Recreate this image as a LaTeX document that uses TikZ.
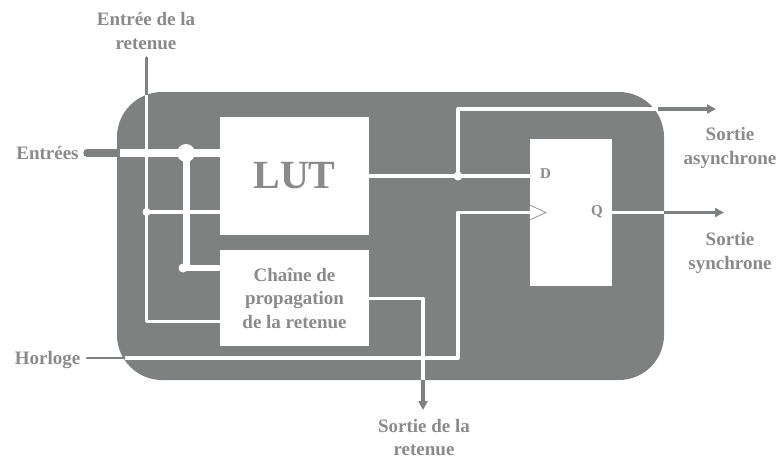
\documentclass[tikz,border=0pt]{standalone}
\usepackage{fontspec}
\setmainfont{Liberation Serif}
\usepackage{tikz}
\usetikzlibrary{arrows.meta,positioning}
\definecolor{blockgray}{HTML}{7F8180}
\definecolor{labelgray}{HTML}{8A8A8A}

\begin{document}
\begin{tikzpicture}[
  x=1pt, y=-1pt,
  node distance=15pt and 15pt,
  blockbox/.style={fill=blockgray, rounded corners=45pt, minimum width=547pt, minimum height=288pt, inner sep=0pt},
  whitebox/.style={fill=white, align=center, inner sep=0pt, text=labelgray},
  lab/.style={text=labelgray, align=center, font=\fontsize{19}{23.5}\selectfont\bfseries, inner sep=0pt},
  pin/.style={text=labelgray, font=\fontsize{15}{15}\selectfont\bfseries, inner sep=0pt},
  wire/.style={draw=white, line width=3.6pt, line join=round},
  stub/.style={draw=blockgray, line width=3.6pt, line cap=round},
  arr/.style={stub, line cap=butt, -{Triangle[length=9pt,width=9pt]}},
  dot/.style={circle, fill=white, inner sep=0pt, minimum size=#1}]
\useasboundingbox (0,0) rectangle (778,460);
\node[blockbox] (fpga) at (390.5,236) {};
\node[whitebox, minimum width=149pt, minimum height=118pt, font=\fontsize{40}{44}\selectfont\bfseries] (lut) at (294.5,176) {LUT};
\node[whitebox, minimum width=149pt, minimum height=96pt, below=15pt of lut, font=\fontsize{19}{23.5}\selectfont\bfseries] (chain) {Chaîne de\\propagation\\de la retenue};
\node[whitebox, minimum width=82pt, minimum height=147pt] (ff) at (571,212.5) {};
\node[pin] (d) at (545.5,174) {D};
\node[pin] (q) at (597,211.5) {Q};
% labels
\node[lab] (cin) at (146,31) {Entrée de la\\retenue};
\node[lab] (ent) at (47.5,152.5) {Entrées};
\node[lab] (clk) at (47.5,359.5) {Horloge};
\node[lab] (sa) at (730,148) {Sortie\\asynchrone};
\node[lab] (ss) at (730,253) {Sortie\\synchrone};
\node[lab] (cout) at (424,437.5) {Sortie de la\\retenue};
% junctions and free ends
\coordinate (cintop) at (146.5,58);
\coordinate (cinedge) at (146.5,95);
\coordinate (cinj) at (146.5,212);
\coordinate (entstart) at (87,153);
\coordinate (entedge) at (120,153);
\coordinate (entj) at (186,153);
\coordinate (entk) at (186,268);
\coordinate (entkdotc) at (183,268);
\coordinate (clkstart) at (87,358);
\coordinate (clkedge) at (125,358);
\coordinate (outj) at (458,176);
\coordinate (asyedge) at (656,109);
\coordinate (asyend) at (716,109);
\coordinate (syncedge) at (664,212.5);
\coordinate (syncend) at (724,212.5);
\coordinate (coutedge) at (423,380);
\coordinate (coutend) at (423,410);
\draw[stub] (cintop) -- (cinedge);
\draw[stub, line width=7.5pt] (entstart) -- (entedge);
\draw[stub, line width=2.7pt] (clkstart) -- (clkedge);
\draw[arr] (asyedge) ++(2,0) -- (asyend);
\draw[arr] (syncedge) -- (syncend);
\draw[arr] (coutedge) -- (coutend);
\draw[wire] (cinedge) |- ([yshift=-23pt]chain.west);
\draw[wire] (cinj) -- (cinj -| lut.west);
\draw[wire, line width=8.5pt] (entedge) -- (entj -| lut.west);
\draw[wire, line width=7pt] (entj) -- (entk);
\draw[wire, line width=6.5pt] (entkdotc) -- (entk -| chain.west);
\draw[wire, line width=3.3pt] (lut.east) -- (outj -| ff.west);
\draw[wire, line width=3.3pt] (outj) |- (asyedge);
\draw[wire] (ff.east) -- (syncedge);
\draw[wire, line width=3.3pt] (chain.east) -| (coutedge);
\draw[wire, line width=3.2pt] (clkedge) -| (ff.west -| outj) -- (ff.west);
\node[dot=18pt] (entdot) at (entj) {};
\node[dot=9pt] (entkdot) at (entkdotc) {};
\node[dot=8pt] (cindot) at (cinj) {};
\node[dot=9pt] (outdot) at (outj) {};
\draw[draw=labelgray, fill=white, line width=0.7pt] ([yshift=-7.5pt]ff.west) -- ([xshift=16pt]ff.west) -- ([yshift=7.5pt]ff.west);
\end{tikzpicture}
\end{document}
